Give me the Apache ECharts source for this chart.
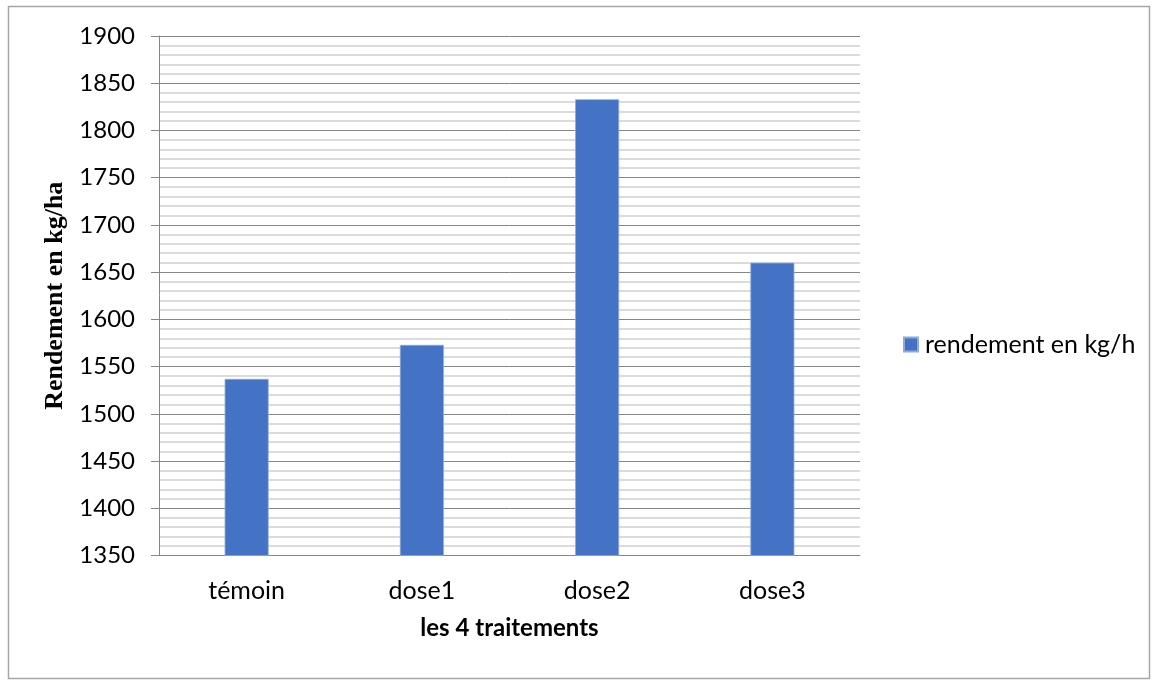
<!DOCTYPE html>
<html>
<head>
<meta charset="utf-8">
<script src="https://cdn.jsdelivr.net/npm/echarts@6/dist/echarts.min.js"></script>
<style>
  html, body { margin: 0; padding: 0; background: #ffffff; }
  #chart { width: 1154px; height: 681px; }
</style>
</head>
<body>
<div id="chart"></div>
<script>
// Yield per treatment (kg/ha)
const categories = ['témoin', 'dose1', 'dose2', 'dose3'];
const rendement = [1537, 1573, 1833, 1660];
const seriesName = 'rendement en kg/h';
const yTitle = 'Rendement en kg/ha';
const xTitle = 'les 4 traitements';
const yMin = 1350, yMax = 1900, yStep = 50;

const chart = echarts.init(document.getElementById('chart'), null, { renderer: 'canvas' });

chart.setOption({
  backgroundColor: '#ffffff',
  animation: false,
  textStyle: { fontFamily: 'Lato' },
  graphic: [{
    type: 'rect',
    shape: { x: 8.5, y: 6.5, width: 1141, height: 672 },
    style: { fill: 'none', stroke: '#a6a6a6', lineWidth: 1.5 },
    silent: true
  }],
  grid: { left: 159, top: 36, width: 701, height: 519.5, containLabel: false },
  legend: {
    data: [seriesName],
    orient: 'vertical',
    left: 898,
    top: 327,
    itemWidth: 14,
    itemHeight: 14,
    itemGap: 8,
    icon: 'rect',
    textStyle: { fontFamily: 'Lato', fontSize: 25, color: '#000000', padding: [0, 0, 0, 2] }
  },
  xAxis: {
    type: 'category',
    data: categories,
    name: xTitle,
    nameLocation: 'middle',
    nameGap: 61,
    nameTextStyle: { fontFamily: 'Lato', fontWeight: 'bold', fontSize: 24, color: '#000000' },
    axisLine: { lineStyle: { color: '#868686', width: 1 } },
    axisTick: { show: false },
    axisLabel: { margin: 23, fontSize: 25, color: '#000000', fontFamily: 'Lato' }
  },
  yAxis: {
    type: 'value',
    min: yMin,
    max: yMax,
    interval: yStep,
    name: yTitle,
    nameLocation: 'middle',
    nameRotate: 90,
    nameGap: 82,
    nameTextStyle: { fontFamily: 'Liberation Serif', fontWeight: 'bold', fontSize: 26, color: '#000000' },
    axisLine: { show: true, lineStyle: { color: '#868686', width: 1 } },
    axisTick: { show: true, length: 8, lineStyle: { color: '#868686' } },
    axisLabel: {
      margin: 24, fontSize: 24, color: '#000000', fontFamily: 'Lato',
      formatter: (v) => String(v)
    },
    splitLine: { show: true, lineStyle: { color: '#868686', width: 1 } },
    minorTick: { show: false, splitNumber: 5 },
    minorSplitLine: { show: true, lineStyle: { color: '#d0d0d0', width: 1.5 } }
  },
  series: [{
    name: seriesName,
    type: 'bar',
    data: rendement,
    barWidth: 44,
    itemStyle: { color: '#4472c4', borderColor: '#8fa9dc', borderWidth: 0.8 }
  }]
});
</script>
</body>
</html>
